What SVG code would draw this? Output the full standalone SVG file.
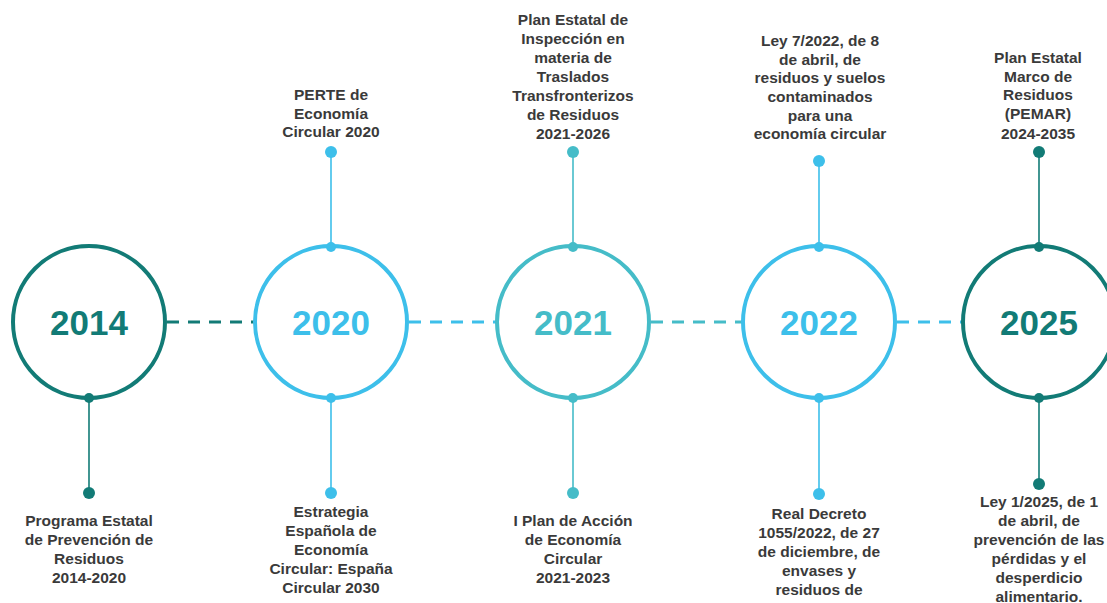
<svg xmlns="http://www.w3.org/2000/svg" width="1107" height="603" viewBox="0 0 1107 603">
  <style>
    .ring { fill: #ffffff; stroke-width: 4; }
    .year { font-family: "Liberation Sans", Arial, sans-serif; font-weight: bold; font-size: 35px; text-anchor: middle; }
    .lbl { font-family: "Liberation Sans", Arial, sans-serif; font-weight: bold; font-size: 15.5px; fill: #3a3a3a; text-anchor: middle; }
    .dash { stroke-width: 3; stroke-dasharray: 12 9; fill: none; }
    .stem { stroke-width: 1.6; fill: none; }
    .teal { stroke: #127b76; }
    .blue { stroke: #3dbfea; }
    .cyan { stroke: #45bcc8; }
    .fteal { fill: #127b76; }
    .fblue { fill: #3dbfea; }
    .fcyan { fill: #45bcc8; }
  </style>
  <rect width="1107" height="603" fill="#ffffff"/>

  <!-- dashed timeline between the year rings -->
  <g id="connectors">
    <line class="dash teal" x1="167" y1="322" x2="254" y2="322"/>
    <line class="dash blue" x1="409" y1="322" x2="496" y2="322"/>
    <line class="dash cyan" x1="651" y1="322" x2="742" y2="322"/>
    <line class="dash blue" x1="897" y1="322" x2="962" y2="322"/>

    <!-- stems to the milestone labels -->
    <line class="stem teal" x1="89" y1="399" x2="89" y2="493"/>
    <line class="stem blue" x1="331" y1="152" x2="331" y2="247"/>
    <line class="stem blue" x1="331" y1="399" x2="331" y2="493"/>
    <line class="stem cyan" x1="573" y1="152" x2="573" y2="247"/>
    <line class="stem cyan" x1="573" y1="399" x2="573" y2="493"/>
    <line class="stem blue" x1="819" y1="161" x2="819" y2="247"/>
    <line class="stem blue" x1="819" y1="399" x2="819" y2="494"/>
    <line class="stem teal" x1="1039" y1="152" x2="1039" y2="247"/>
    <line class="stem teal" x1="1039" y1="399" x2="1039" y2="484"/>
  </g>

  <g id="y2014">
    <circle class="ring teal" cx="89" cy="322" r="76"/>
    <text class="year fteal" x="89" y="335">2014</text>
    <circle class="fteal" cx="89" cy="398" r="5"/>
    <circle class="fteal" cx="89" cy="493" r="6"/>
    <text class="lbl" x="89" y="526">Programa Estatal</text>
    <text class="lbl" x="89" y="545">de Prevención de</text>
    <text class="lbl" x="89" y="564">Residuos</text>
    <text class="lbl" x="89" y="583">2014-2020</text>
  </g>

  <g id="y2020">
    <circle class="ring blue" cx="331" cy="322" r="76"/>
    <text class="year fblue" x="331" y="335">2020</text>
    <circle class="fblue" cx="331" cy="152" r="6"/>
    <circle class="fblue" cx="331" cy="247" r="5"/>
    <circle class="fblue" cx="331" cy="398" r="5"/>
    <circle class="fblue" cx="331" cy="493" r="6"/>
    <text class="lbl" x="331" y="100">PERTE de</text>
    <text class="lbl" x="331" y="119">Economía</text>
    <text class="lbl" x="331" y="137">Circular 2020</text>
    <text class="lbl" x="331" y="517">Estrategia</text>
    <text class="lbl" x="331" y="536">Española de</text>
    <text class="lbl" x="331" y="555">Economía</text>
    <text class="lbl" x="331" y="574">Circular: España</text>
    <text class="lbl" x="331" y="593">Circular 2030</text>
  </g>

  <g id="y2021">
    <circle class="ring cyan" cx="573" cy="322" r="76"/>
    <text class="year fcyan" x="573" y="335">2021</text>
    <circle class="fcyan" cx="573" cy="152" r="6"/>
    <circle class="fcyan" cx="573" cy="247" r="5"/>
    <circle class="fcyan" cx="573" cy="398" r="5"/>
    <circle class="fcyan" cx="573" cy="493" r="6"/>
    <text class="lbl" x="573" y="25">Plan Estatal de</text>
    <text class="lbl" x="573" y="44">Inspección en</text>
    <text class="lbl" x="573" y="63">materia de</text>
    <text class="lbl" x="573" y="82">Traslados</text>
    <text class="lbl" x="573" y="101">Transfronterizos</text>
    <text class="lbl" x="573" y="120">de Residuos</text>
    <text class="lbl" x="573" y="139">2021-2026</text>
    <text class="lbl" x="573" y="526">I Plan de Acción</text>
    <text class="lbl" x="573" y="545">de Economía</text>
    <text class="lbl" x="573" y="564">Circular</text>
    <text class="lbl" x="573" y="583">2021-2023</text>
  </g>

  <g id="y2022">
    <circle class="ring blue" cx="819" cy="322" r="76"/>
    <text class="year fblue" x="819" y="335">2022</text>
    <circle class="fblue" cx="819" cy="161" r="6"/>
    <circle class="fblue" cx="819" cy="247" r="5"/>
    <circle class="fblue" cx="819" cy="398" r="5"/>
    <circle class="fblue" cx="819" cy="494" r="6"/>
    <text class="lbl" x="820" y="46">Ley 7/2022, de 8</text>
    <text class="lbl" x="820" y="65">de abril, de</text>
    <text class="lbl" x="820" y="83">residuos y suelos</text>
    <text class="lbl" x="820" y="102">contaminados</text>
    <text class="lbl" x="820" y="121">para una</text>
    <text class="lbl" x="820" y="139">economía circular</text>
    <text class="lbl" x="819" y="519">Real Decreto</text>
    <text class="lbl" x="819" y="538">1055/2022, de 27</text>
    <text class="lbl" x="819" y="557">de diciembre, de</text>
    <text class="lbl" x="819" y="576">envases y</text>
    <text class="lbl" x="819" y="595">residuos de</text>
  </g>

  <g id="y2025">
    <circle class="ring teal" cx="1039" cy="322" r="76"/>
    <text class="year fteal" x="1039" y="335">2025</text>
    <circle class="fteal" cx="1039" cy="152" r="6"/>
    <circle class="fteal" cx="1039" cy="247" r="5"/>
    <circle class="fteal" cx="1039" cy="398" r="5"/>
    <circle class="fteal" cx="1039" cy="484" r="6"/>
    <text class="lbl" x="1038" y="63">Plan Estatal</text>
    <text class="lbl" x="1038" y="82">Marco de</text>
    <text class="lbl" x="1038" y="100">Residuos</text>
    <text class="lbl" x="1038" y="119">(PEMAR)</text>
    <text class="lbl" x="1038" y="139">2024-2035</text>
    <text class="lbl" x="1039" y="507">Ley 1/2025, de 1</text>
    <text class="lbl" x="1039" y="526">de abril, de</text>
    <text class="lbl" x="1039" y="545">prevención de las</text>
    <text class="lbl" x="1039" y="564">pérdidas y el</text>
    <text class="lbl" x="1039" y="583">desperdicio</text>
    <text class="lbl" x="1039" y="602">alimentario.</text>
  </g>
</svg>
